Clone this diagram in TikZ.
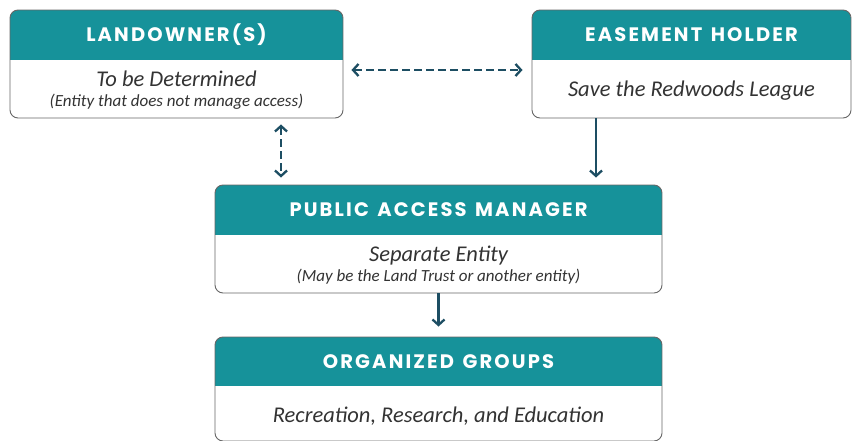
\documentclass[tikz,border=0pt]{standalone}
\usepackage{fontspec}
\setmainfont{Carlito}
\newfontfamily\headfont[LetterSpace=11,WordSpace=1.35]{Poppins}
\usetikzlibrary{arrows.meta,calc}
\definecolor{headteal}{HTML}{16929A}
\definecolor{framegray}{HTML}{666666}
\definecolor{arrowblue}{HTML}{1D4E63}
\definecolor{textgray}{HTML}{333333}
\tikzset{
  x=1pt, y=-1pt,
  frame/.style={draw=framegray, line width=0.9pt, rounded corners=8pt, inner sep=0pt},
  headtext/.style={text=white, font=\headfont\bfseries\fontsize{19.5}{23}\selectfont},
  maintext/.style={text=textgray, font=\itshape\fontsize{22.5}{27}\selectfont},
  subtext/.style={text=textgray, font=\itshape\fontsize{17}{20}\selectfont},
  link/.style={draw=arrowblue, line width=2.3pt, -{Straight Barb[length=5.5pt,width=12pt,line width=2.3pt]}},
  duallink/.style={link, {Straight Barb[length=5.5pt,width=12pt,line width=2.3pt]}-{Straight Barb[length=5.5pt,width=12pt,line width=2.3pt]}, dash pattern=on 7.5pt off 4.5pt},
}
% #1 name, #2 left, #3 top, #4 right, #5 bottom, #6 bottom of the header band
\newcommand\orgpanel[6]{%
  \begin{scope}
    \clip[rounded corners=8pt] (#2,#3) rectangle (#4,#5);
    \fill[headteal] (#2,#3) rectangle (#4,#6);
  \end{scope}
  \node[frame, minimum width={(#4-#2)*1pt}, minimum height={(#5-#3)*1pt}] (#1) at ({(#2+#4)/2},{(#3+#5)/2}) {};
}
\begin{document}
\begin{tikzpicture}
\useasboundingbox (0,0) rectangle (859,441);
\fill[white] (0,0) rectangle (859,441);

\orgpanel{land}{10}{10}{343}{118}{60}
\orgpanel{ease}{532}{10}{851}{118}{60}
\orgpanel{pam}{215}{185}{662}{293}{235}
\orgpanel{org}{215}{337}{662}{441}{386}

\node[headtext] (landT) at (176.5,35) {LANDOWNER(S)};
\node[maintext] (landM) at (176.5,79) {To be Determined};
\node[subtext] (landS) at (176.5,102) {(Entity that does not manage access)};

\node[headtext] (easeT) at (691.5,35) {EASEMENT HOLDER};
\node[maintext] (easeM) at (691.5,91) {Save the Redwoods League};

\node[headtext] (pamT) at (438.5,210) {PUBLIC ACCESS MANAGER};
\node[maintext] (pamM) at (438.5,256) {Separate Entity};
\node[subtext] (pamS) at (438.5,277) {(May be the Land Trust or another entity)};

\node[headtext] (orgT) at (438.5,362) {ORGANIZED GROUPS};
\node[maintext] (orgM) at (438.5,416) {Recreation, Research, and Education};

% end points of the connectors
\coordinate (lr1) at ($(land.east)+(8,6)$);
\coordinate (lr2) at ($(ease.west)+(-9,6)$);
\coordinate (ld1) at ($(land.south)+(104.5,6)$);
\coordinate (pin) at ($(pam.north)+(0,-7)$);
\coordinate (ed1) at ($(ease.south)+(-95.5,0)$);
\coordinate (oin) at ($(org.north)+(0,-10)$);

% landowner <-> easement holder
\draw[duallink] (lr1) -- (lr2);
% landowner <-> public access manager
\draw[duallink] (ld1) -- (ld1 |- pin);
% easement holder -> public access manager
\draw[link] (ed1) -- (ed1 |- pin);
% public access manager -> organized groups
\draw[link] (pam.south) -- (oin);
\end{tikzpicture}
\end{document}
